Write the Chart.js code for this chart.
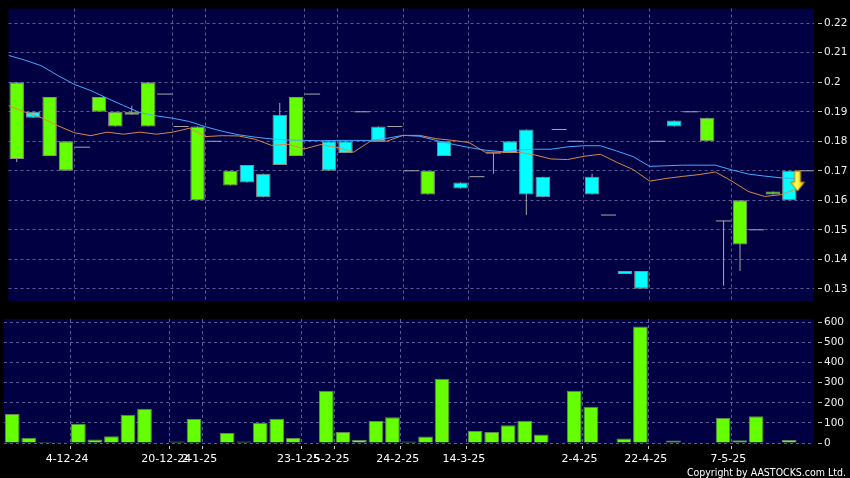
<!DOCTYPE html>
<html>
<head>
<meta charset="utf-8">
<script src="https://cdn.jsdelivr.net/npm/chart.js@4.4.0/dist/chart.umd.min.js"></script>
<style>
  html, body { margin: 0; padding: 0; background: #000; }
  #wrap { position: relative; width: 850px; height: 478px; overflow: hidden; background: #000; }
  #price-canvas { position: absolute; left: 0; top: 0; }
  #volume-canvas { position: absolute; left: 0; top: 310px; }
  #copyright {
    position: absolute; right: 4px; top: 466px; line-height: 12px;
    color: #fff; font: 10.5px 'DejaVu Sans Condensed', 'DejaVu Sans', sans-serif; white-space: nowrap;
  }
</style>
</head>
<body>
<div id="wrap">
  <canvas id="price-canvas" width="850" height="310"></canvas>
  <canvas id="volume-canvas" width="850" height="168"></canvas>
  <div id="copyright">Copyright by AASTOCKS.com Ltd.</div>
</div>
<script>
// ─── DATA (one entry per trading slot) ──────────────────────────
const opens  = [0.174, 0.190, 0.175, 0.170, 0.178, 0.190, 0.185, 0.189, 0.185, 0.196,
                0.185, 0.160, 0.180, 0.165, 0.172, 0.169, 0.189, 0.175, 0.196, 0.180,
                0.180, 0.190, 0.185, 0.185, 0.170, 0.162, 0.180, 0.166, 0.168, 0.176,
                0.180, 0.184, 0.168, 0.184, 0.180, 0.168, 0.155, 0.136, 0.136, 0.180,
                0.187, 0.190, 0.180, 0.153, 0.145, 0.150, 0.162, 0.170, 0.170];
const highs  = [0.200, 0.190, 0.195, 0.180, 0.178, 0.195, 0.190, 0.192, 0.200, 0.196,
                0.185, 0.185, 0.180, 0.170, 0.172, 0.169, 0.193, 0.195, 0.196, 0.180,
                0.180, 0.190, 0.185, 0.185, 0.170, 0.170, 0.180, 0.166, 0.168, 0.176,
                0.180, 0.184, 0.168, 0.184, 0.180, 0.169, 0.155, 0.136, 0.136, 0.180,
                0.187, 0.190, 0.188, 0.153, 0.160, 0.150, 0.163, 0.170, 0.170];
const lows   = [0.173, 0.188, 0.175, 0.170, 0.178, 0.190, 0.185, 0.189, 0.185, 0.196,
                0.185, 0.160, 0.180, 0.165, 0.166, 0.161, 0.172, 0.175, 0.196, 0.170,
                0.176, 0.190, 0.180, 0.185, 0.170, 0.162, 0.175, 0.164, 0.168, 0.169,
                0.176, 0.155, 0.161, 0.184, 0.180, 0.162, 0.155, 0.135, 0.130, 0.180,
                0.185, 0.190, 0.180, 0.131, 0.136, 0.150, 0.162, 0.160, 0.170];
const closes = [0.200, 0.188, 0.195, 0.180, 0.178, 0.195, 0.190, 0.190, 0.200, 0.196,
                0.185, 0.185, 0.180, 0.170, 0.166, 0.161, 0.172, 0.195, 0.196, 0.170,
                0.176, 0.190, 0.180, 0.185, 0.170, 0.170, 0.175, 0.164, 0.168, 0.176,
                0.176, 0.162, 0.161, 0.184, 0.180, 0.162, 0.155, 0.135, 0.130, 0.180,
                0.185, 0.190, 0.188, 0.153, 0.160, 0.150, 0.163, 0.160, 0.170];
const volumes = [144, 26, 5, 4, 96, 17, 33, 141, 171, 0,
                 8, 119, 3, 50, 8, 101, 121, 25, 0, 260,
                 55, 15, 109, 128, 8, 32, 320, 0, 60, 55,
                 88, 111, 42, 0, 260, 180, 0, 22, 580, 0,
                 12, 0, 0, 125, 14, 133, 0, 15, 0];
// moving averages, one point per slot boundary
const maSlow = [0.2091, 0.2075, 0.2056, 0.2023, 0.1993, 0.1972, 0.1946, 0.1921, 0.1897, 0.1886,
                0.1878, 0.1867, 0.1849, 0.1834, 0.1822, 0.1814, 0.1808, 0.1804, 0.1803, 0.1802,
                0.1803, 0.1803, 0.1803, 0.1810, 0.1820, 0.1817, 0.1803, 0.1790, 0.1779, 0.1770,
                0.1765, 0.1770, 0.1773, 0.1773, 0.1781, 0.1785, 0.1785, 0.1767, 0.1748, 0.1715,
                0.1717, 0.1719, 0.1719, 0.1719, 0.1703, 0.1689, 0.1682, 0.1676, 0.1673];
const maFast = [0.1921, 0.1899, 0.1880, 0.1853, 0.1829, 0.1819, 0.1831, 0.1824, 0.1831, 0.1824,
                0.1831, 0.1844, 0.1816, 0.1819, 0.1818, 0.1807, 0.1786, 0.1790, 0.1774, 0.1789,
                0.1779, 0.1763, 0.1800, 0.1800, 0.1820, 0.1820, 0.1809, 0.1803, 0.1796, 0.1763,
                0.1763, 0.1763, 0.1754, 0.1740, 0.1738, 0.1749, 0.1756, 0.1729, 0.1704, 0.1665,
                0.1674, 0.1681, 0.1687, 0.1696, 0.1665, 0.1630, 0.1613, 0.1619, 0.1640];
const dateTickSlots  = [4, 10, 12, 18, 20, 24, 28, 35, 39, 44];
const dateTickLabels = ['4-12-24', '20-12-24', '2-1-25', '23-1-25', '5-2-25',
                        '24-2-25', '14-3-25', '2-4-25', '22-4-25', '7-5-25'];
const priceTicks  = [0.13, 0.14, 0.15, 0.16, 0.17, 0.18, 0.19, 0.20, 0.21, 0.22];
const volumeTicks = [0, 100, 200, 300, 400, 500, 600];
const signalSlots  = [47];
const signalPrices = [0.1665];

// ─── STYLE ──────────────────────────────────────────────────────
const UP_COLOR   = '#66ff00';
const DOWN_COLOR = '#00ffff';
const EDGE_COLOR = '#8c8c8c';
const WICK_COLOR = '#a8a8a8';
const PLOT_BG    = '#000042';
const GRID_COLOR = '#5c5c98';
const FONT       = 'DejaVu Sans';

Chart.defaults.font.family = FONT;
Chart.defaults.animation = false;

const plotBackground = {
  id: 'plotBackground',
  beforeDraw(chart) {
    const { ctx, chartArea: a } = chart;
    ctx.save();
    ctx.fillStyle = PLOT_BG;
    ctx.fillRect(a.left, a.top, a.right - a.left, a.bottom - a.top);
    ctx.restore();
  }
};

function makeArrow() {
  const c = document.createElement('canvas');
  c.width = 16; c.height = 22;
  const g = c.getContext('2d');
  g.beginPath();
  g.moveTo(5, 1); g.lineTo(11, 1); g.lineTo(11, 12); g.lineTo(15, 12);
  g.lineTo(8, 21); g.lineTo(1, 12); g.lineTo(5, 12); g.closePath();
  const grad = g.createLinearGradient(0, 0, 16, 0);
  grad.addColorStop(0, '#ffe000');
  grad.addColorStop(0.45, '#ffff50');
  grad.addColorStop(1, '#e8a800');
  g.fillStyle = grad;
  g.fill();
  g.strokeStyle = '#b07800';
  g.lineWidth = 1;
  g.stroke();
  return c;
}

function dateAxis(showLabels) {
  return {
    type: 'linear', min: 0, max: opens.length, offset: false,
    afterBuildTicks: s => { s.ticks = dateTickSlots.map(v => ({ value: v })); },
    afterFit: s => { s.height = showLabels ? 35 : 0; },
    grid: {
      color: GRID_COLOR, offset: false, drawTicks: showLabels,
      tickLength: 6, tickColor: '#cccccc', tickBorderDash: [3, 3], tickBorderDashOffset: 3
    },
    border: { display: false, dash: [3, 3] },
    ticks: {
      display: showLabels, color: '#ffffff', font: { size: 11 },
      padding: 4, labelOffset: -3, maxRotation: 0, autoSkip: false,
      callback: v => dateTickLabels[dateTickSlots.indexOf(v)]
    }
  };
}

function valueAxis(min, max, tickValues, fmt) {
  return {
    position: 'right', min, max,
    afterBuildTicks: s => { s.ticks = tickValues.map(v => ({ value: v })); },
    afterFit: s => { s.width = 36; },
    grid: {
      color: GRID_COLOR, tickLength: 8, tickColor: '#bbbbbb',
      tickBorderDash: [4, 4], tickBorderDashOffset: 4
    },
    border: { display: false, dash: [3, 3] },
    ticks: { color: '#eeeeee', font: { size: 10.5 }, padding: 2, callback: fmt }
  };
}

// ─── PRICE CHART ────────────────────────────────────────────────
const slots  = opens.map((_, i) => i);
const bodies = slots.filter(i => opens[i] !== closes[i])
                    .map(i => ({ x: i + 0.5, y: [opens[i], closes[i]] }));
const dojis  = slots.filter(i => opens[i] === closes[i])
                    .map(i => ({ x: i + 0.5, y: closes[i] }));
const wicks  = slots.map(i => ({ x: i + 0.5, y: [lows[i], highs[i]] }));

new Chart(document.getElementById('price-canvas'), {
  type: 'bar',
  data: {
    datasets: [
      {
        type: 'line', label: 'signal', showLine: false,
        data: signalSlots.map((s, i) => ({ x: s + 1, y: signalPrices[i] })),
        pointStyle: makeArrow(), pointRadius: 6
      },
      {
        type: 'line', label: 'MA slow',
        data: maSlow.map((y, i) => ({ x: i, y })),
        borderColor: '#44a8ff', borderWidth: 1, pointRadius: 0, tension: 0
      },
      {
        type: 'line', label: 'MA fast',
        data: maFast.map((y, i) => ({ x: i, y })),
        borderColor: '#d8884c', borderWidth: 1, pointRadius: 0, tension: 0
      },
      {
        type: 'line', label: 'doji', showLine: false, data: dojis,
        pointStyle: 'line', pointRadius: 7.5,
        pointBorderColor: WICK_COLOR, pointBorderWidth: 1
      },
      {
        label: 'body', data: bodies, grouped: false,
        categoryPercentage: 1, barPercentage: 0.88,
        backgroundColor: c => (c.raw.y[1] > c.raw.y[0] ? UP_COLOR : DOWN_COLOR),
        borderColor: EDGE_COLOR, borderWidth: 1, borderSkipped: false
      },
      {
        label: 'wick', data: wicks, grouped: false, maxBarThickness: 1,
        backgroundColor: WICK_COLOR, borderWidth: 0
      }
    ]
  },
  options: {
    responsive: false,
    layout: { padding: { left: 4, top: 6, right: 0, bottom: 3 } },
    plugins: { legend: { display: false }, tooltip: { enabled: false } },
    scales: {
      x: dateAxis(false),
      y: valueAxis(0.1257, 0.2250, priceTicks, v => String(+v.toFixed(2)))
    }
  },
  plugins: [plotBackground]
});

// ─── VOLUME CHART ───────────────────────────────────────────────
new Chart(document.getElementById('volume-canvas'), {
  type: 'bar',
  data: {
    datasets: [{
      label: 'volume', grouped: false,
      data: volumes.map((v, i) => ({ x: i + 0.5, y: v })),
      categoryPercentage: 1, barPercentage: 0.89,
      backgroundColor: UP_COLOR, borderColor: '#5f8a48', borderWidth: 1
    }]
  },
  options: {
    responsive: false,
    layout: { padding: { left: 4, top: 9, right: 0, bottom: 0 } },
    plugins: { legend: { display: false }, tooltip: { enabled: false } },
    scales: {
      x: dateAxis(true),
      y: valueAxis(0, 617, volumeTicks, v => String(v))
    }
  },
  plugins: [plotBackground]
});
</script>
</body>
</html>
